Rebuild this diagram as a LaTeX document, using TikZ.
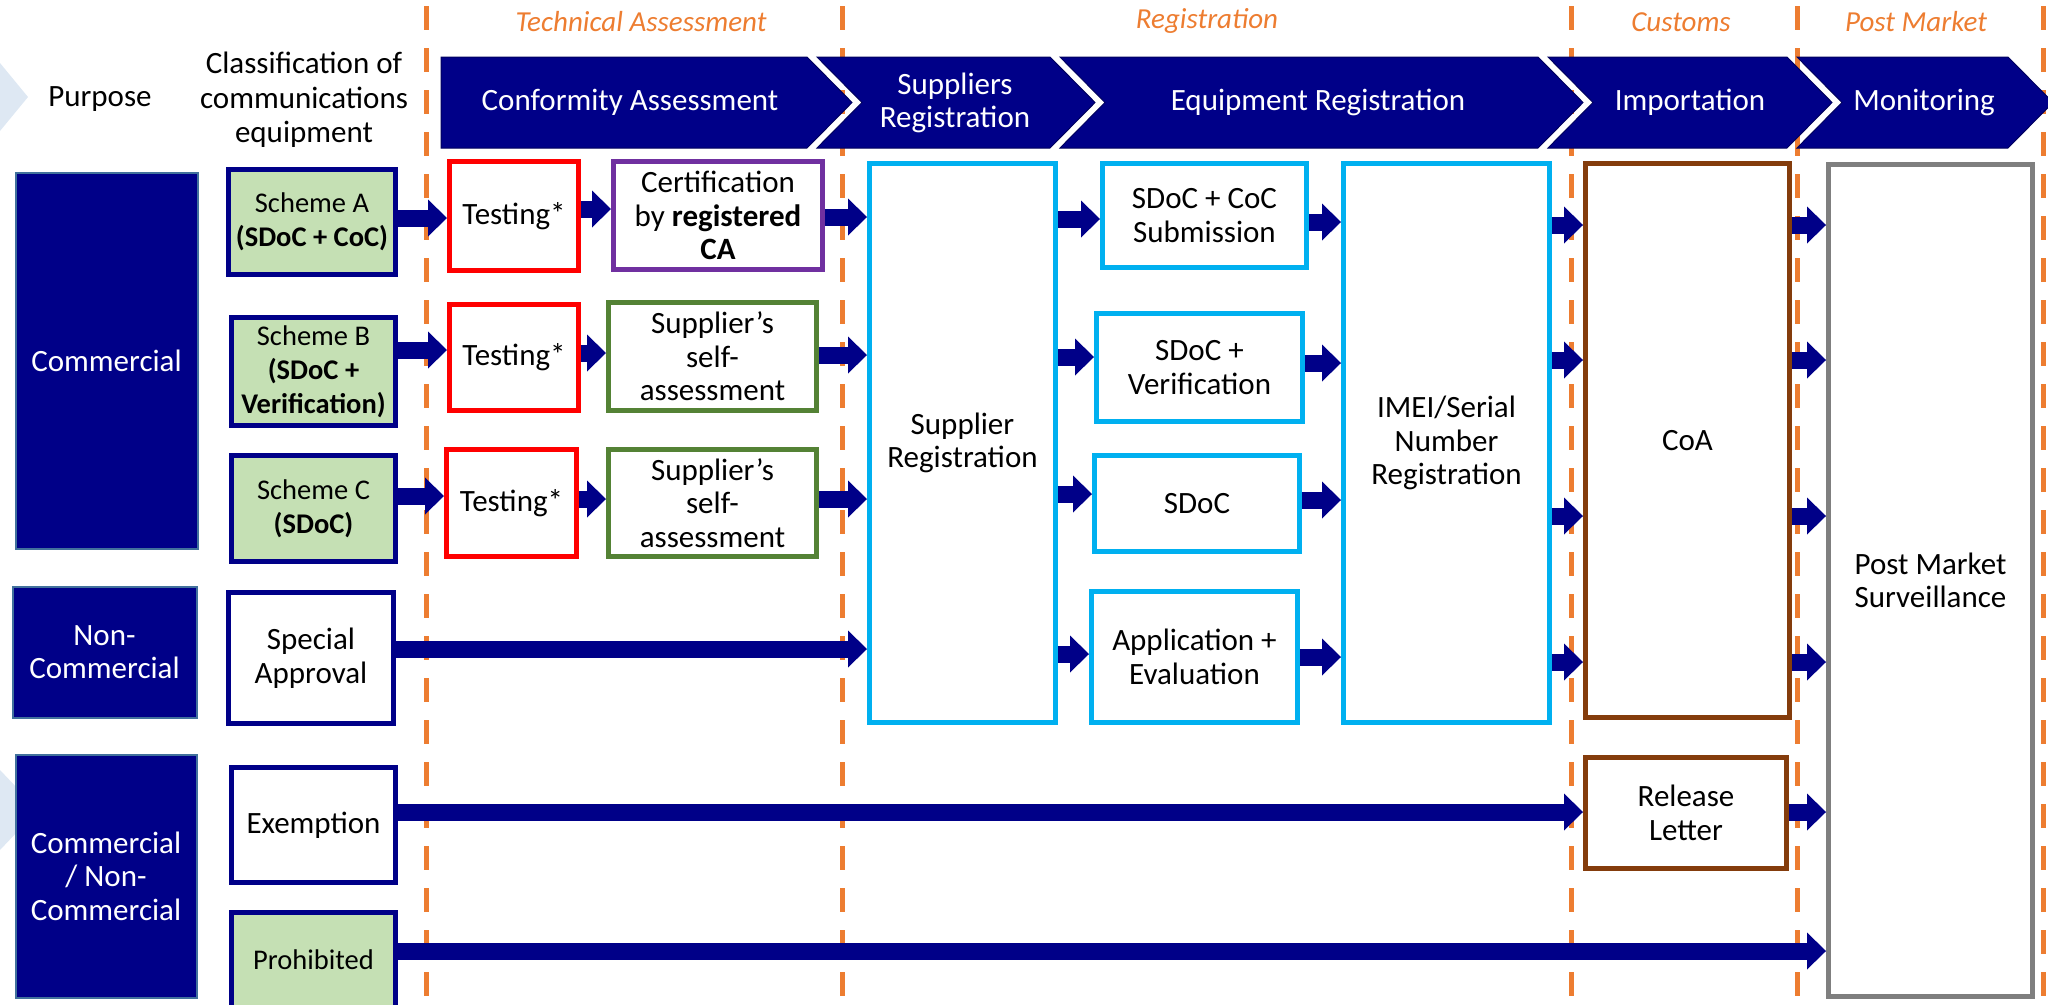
\documentclass[tikz,border=0pt]{standalone}
\usepackage{fontspec}
\setmainfont{Carlito}
\usetikzlibrary{arrows.meta}
\definecolor{navy}{HTML}{000088}
\definecolor{schgreen}{HTML}{C5E0B4}
\definecolor{bxred}{HTML}{FF0000}
\definecolor{bxpurple}{HTML}{7030A0}
\definecolor{bxgreen}{HTML}{548235}
\definecolor{bxcyan}{HTML}{00B0F0}
\definecolor{bxbrown}{HTML}{843C0C}
\definecolor{bxgray}{HTML}{7F7F7F}
\definecolor{orng}{HTML}{ED7D31}
\definecolor{paleblue}{HTML}{DEE8F3}
\definecolor{slate}{HTML}{41719C}
\newcommand{\mainfs}{\fontsize{31}{33.5}\selectfont}
\newcommand{\schfs}{\fontsize{28.5}{34}\selectfont}
\newcommand{\hdrfs}{\fontsize{29}{32}\selectfont}
% box macro: name, style, x1, y1, x2, y2, text
\newcommand{\bx}[7]{\node[#2, minimum width={(#5-#3-5)*1pt}, minimum height={(#6-#4-5)*1pt}] (#1) at ({(#3+#5)/2},{(#4+#6)/2}) {#7};}
% chevron with notch: left, right
\newcommand{\chevn}[2]{\filldraw[chev] (#1,57) -- (#2,57) -- ({#2+45},102.5) -- (#2,148) -- (#1,148) -- ({#1+45},102.5) -- cycle;}
\newcommand{\barr}[3]{\draw[barrow] (#1.east |- 0,#3) -- (#2.west |- 0,#3);}
\tikzset{
  bx/.style={draw=navy, line width=5pt, fill=white, align=center, inner sep=0pt, font=\mainfs, text=black},
  schemebox/.style={bx, fill=schgreen, font=\schfs},
  plainbox/.style={bx},
  redbox/.style={bx, draw=bxred},
  purplebox/.style={bx, draw=bxpurple},
  greenbox/.style={bx, draw=bxgreen},
  cyanbox/.style={bx, draw=bxcyan},
  brownbox/.style={bx, draw=bxbrown},
  graybox/.style={bx, draw=bxgray},
  purposebox/.style={bx, fill=navy, draw=slate, line width=2pt, text=white},
  chev/.style={fill=navy, draw=navy!70!black, line width=1pt},
  chevtxt/.style={text=white, font=\mainfs, align=center, inner sep=0pt},
  hdr/.style={text=orng, font=\hdrfs\itshape, inner sep=0pt},
  plaintxt/.style={text=black, font=\mainfs, align=center, inner sep=0pt},
  dashline/.style={draw=orng, line width=5pt, dash pattern=on 24pt off 18pt},
  barrow/.style={draw=navy, line width=17pt, -{Triangle[width=37pt,length=19pt,line width=0pt]}}
}
\begin{document}
\begin{tikzpicture}[x=1pt,y=-1pt]
\useasboundingbox (0,0) rectangle (2048,1004);
% faint background chevrons at the left edge
\fill[paleblue] (0,63) -- (28,97) -- (0,131) -- cycle;
\fill[paleblue] (0,770) -- (38,810) -- (0,850) -- cycle;
% orange dashed phase separators
\foreach \xx in {426,842,1571,1797,2043} {\draw[dashline] (\xx,6) -- (\xx,1000);}
% header labels
\node[hdr] (hTA) at (641,22) {Technical Assessment};
\node[hdr] (hReg) at (1207,21) {Registration};
\node[hdr] (hCus) at (1681,22) {Customs};
\node[hdr] (hPM) at (1916,22) {Post Market};
% chevrons
\filldraw[chev] (441,57) -- (807,57) -- (852,102.5) -- (807,148) -- (441,148) -- cycle;
\chevn{817}{1050}
\chevn{1060}{1538}
\chevn{1548}{1787}
\chevn{1797}{2008}
\node[chevtxt] (cConf) at (630,102) {Conformity Assessment};
\node[chevtxt] (cSup) at (955,103) {Suppliers\\Registration};
\node[chevtxt] (cEq) at (1318,102) {Equipment Registration};
\node[chevtxt] (cImp) at (1690,102) {Importation};
\node[chevtxt] (cMon) at (1924,102) {Monitoring};
% column titles
\node[plaintxt] (tPurpose) at (100,99) {Purpose};
\node[plaintxt, font=\fontsize{31}{34.6}\selectfont] (tClass) at (304,100) {Classification of\\communications\\equipment};
% purpose boxes
\bx{pComm}{purposebox}{13}{170}{200}{551}{Commercial}
\bx{pNon}{purposebox}{10}{584}{199}{720}{Non-\\Commercial}
\bx{pBoth}{purposebox}{13}{752}{199}{1000}{Commercial\\/ Non-\\Commercial}
% classification boxes
\bx{schA}{schemebox}{226}{167}{398}{277}{Scheme A\\\textbf{(SDoC + CoC)}}
\bx{schB}{schemebox}{229}{315}{398}{428}{Scheme B\\\textbf{(SDoC +}\\\textbf{Verification)}}
\bx{schC}{schemebox}{229}{453}{398}{564}{Scheme C\\\textbf{(SDoC)}}
\bx{spec}{plainbox}{226}{590}{396}{726}{Special\\Approval}
\bx{exem}{plainbox}{229}{765}{398}{885}{Exemption}
\bx{proh}{schemebox}{229}{910}{398}{1010}{Prohibited}
% technical assessment
\bx{tA}{redbox}{447}{159}{581}{273}{Testing*}
\bx{tB}{redbox}{447}{302}{581}{413}{Testing*}
\bx{tC}{redbox}{444}{447}{579}{559}{Testing*}
\bx{cert}{purplebox}{611}{159}{825}{272}{Certification\\by \textbf{registered}\\\textbf{CA}}
\bx{selfB}{greenbox}{606}{300}{819}{413}{Supplier’s\\self-\\assessment}
\bx{selfC}{greenbox}{606}{447}{819}{559}{Supplier’s\\self-\\assessment}
% registration
\bx{sreg}{cyanbox}{867}{161}{1058}{725}{Supplier\\Registration}
\bx{sdc}{cyanbox}{1100}{161}{1309}{270}{SDoC + CoC\\Submission}
\bx{sdv}{cyanbox}{1094}{311}{1305}{424}{SDoC +\\Verification}
\bx{sd}{cyanbox}{1092}{453}{1302}{554}{SDoC}
\bx{app}{cyanbox}{1089}{589}{1300}{725}{Application +\\Evaluation}
\bx{imei}{cyanbox}{1341}{161}{1552}{725}{IMEI/Serial\\Number\\Registration}
% customs
\bx{coa}{brownbox}{1583}{161}{1792}{720}{CoA}
\bx{rl}{brownbox}{1583}{755}{1789}{871}{Release\\Letter}
% post market
\bx{pms}{graybox}{1826}{162}{2035}{999}{Post Market\\Surveillance}
% arrows
\barr{schA}{tA}{218}
\barr{tA}{cert}{209}
\barr{cert}{sreg}{217}
\barr{schB}{tB}{350}
\barr{tB}{selfB}{353}
\barr{selfB}{sreg}{355}
\barr{schC}{tC}{496}
\barr{tC}{selfC}{499}
\barr{selfC}{sreg}{499}
\barr{spec}{sreg}{649}
\barr{sreg}{sdc}{219}
\barr{sreg}{sdv}{357}
\barr{sreg}{sd}{494}
\barr{sreg}{app}{654}
\barr{sdc}{imei}{222}
\barr{sdv}{imei}{363}
\barr{sd}{imei}{500}
\barr{app}{imei}{657}
\foreach \yy in {225,360,516,662} {\barr{imei}{coa}{\yy}\barr{coa}{pms}{\yy}}
\barr{exem}{rl}{812}
\barr{rl}{pms}{812}
\barr{proh}{pms}{951}
\end{tikzpicture}
\end{document}
